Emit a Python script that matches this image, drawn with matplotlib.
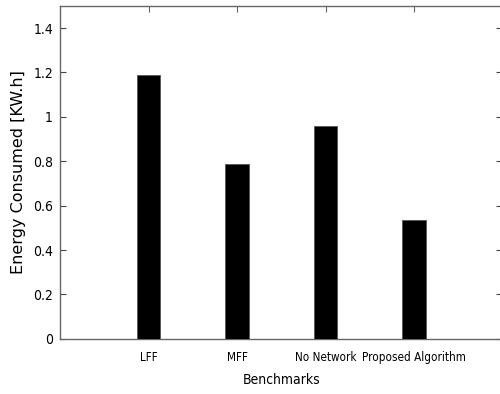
import matplotlib
matplotlib.use("Agg")
import matplotlib.pyplot as plt

# benchmark names and measured energy
benchmarks = ["LFF", "MFF", "No Network", "Proposed Algorithm"]
energy = [1.187, 0.787, 0.957, 0.536]
y_ticks = [0, 0.2, 0.4, 0.6, 0.8, 1, 1.2, 1.4]
y_tick_labels = ["0", "0.2", "0.4", "0.6", "0.8", "1", "1.2", "1.4"]

fig = plt.figure(figsize=(5.0, 3.94), dpi=100)
ax = fig.add_axes([0.12, 0.14, 0.885, 0.845])

pos = list(range(1, len(benchmarks) + 1))
ax.bar(pos, energy, width=0.26, color="black", edgecolor="#555555", linewidth=0.6, zorder=3)

ax.set_xlim(0, 5)
ax.set_ylim(0, 1.5)

ax.set_yticks(y_ticks)
ax.set_yticklabels(y_tick_labels, fontsize=10, fontstretch="condensed")
ax.set_xticks(pos)
ax.set_xticklabels(benchmarks, fontsize=8.4, fontstretch="condensed")

ax.tick_params(axis="y", direction="in", length=4, width=0.8, color="#444444",
               left=True, right=True, pad=5)
ax.tick_params(axis="x", direction="in", length=4, width=0.8, color="#666666",
               bottom=False, top=True, pad=9)

for side in ["left", "bottom", "top"]:
    ax.spines[side].set_color("#666666")
    ax.spines[side].set_linewidth(1.0)
ax.spines["right"].set_visible(False)

ax.set_xlabel("Benchmarks", fontsize=10, fontstretch="condensed", labelpad=6)
ax.set_ylabel("Energy Consumed [KW.h]", fontsize=11.5, labelpad=5)

fig.savefig("out.png", dpi=100)
